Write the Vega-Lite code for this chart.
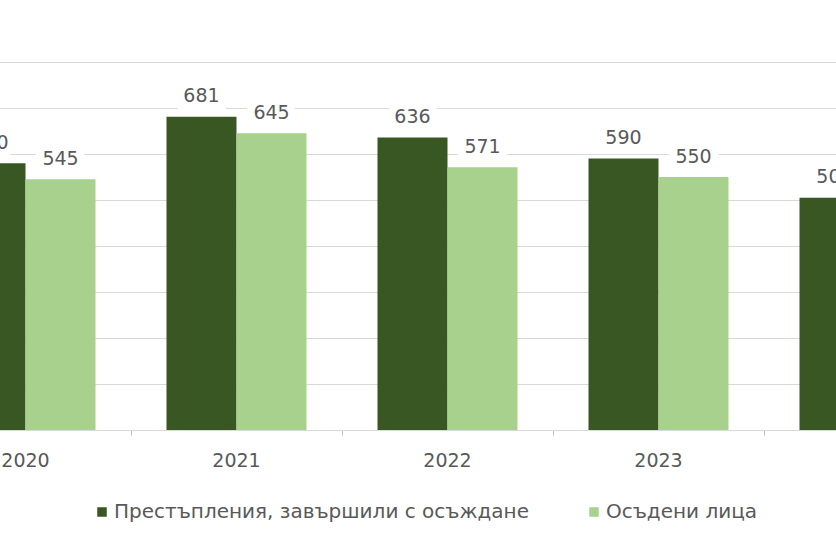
{
  "$schema": "https://vega.github.io/schema/vega-lite/v6.json",
  "width": 836,
  "height": 368,
  "autosize": {"type": "none"},
  "padding": {"left": 0, "top": 62, "right": 0, "bottom": 116},
  "background": "white",
  "config": {"view": {"stroke": null}},
  "data": {
    "values": [
      {"year": "2020", "series": "Престъпления, завършили с осъждане", "value": 580},
      {"year": "2020", "series": "Осъдени лица", "value": 545},
      {"year": "2021", "series": "Престъпления, завършили с осъждане", "value": 681},
      {"year": "2021", "series": "Осъдени лица", "value": 645},
      {"year": "2022", "series": "Престъпления, завършили с осъждане", "value": 636},
      {"year": "2022", "series": "Осъдени лица", "value": 571},
      {"year": "2023", "series": "Престъпления, завършили с осъждане", "value": 590},
      {"year": "2023", "series": "Осъдени лица", "value": 550},
      {"year": "2024", "series": "Престъпления, завършили с осъждане", "value": 505},
      {"year": "2024", "series": "Осъдени лица", "value": 480}
    ]
  },
  "resolve": {"axis": {"x": "independent"}},
  "encoding": {
    "xOffset": {
      "field": "series",
      "type": "nominal",
      "sort": ["Престъпления, завършили с осъждане", "Осъдени лица"],
      "scale": {"paddingInner": 0, "paddingOuter": 0.507}
    },
    "y": {
      "field": "value",
      "type": "quantitative",
      "scale": {"domain": [0, 800], "nice": false},
      "axis": {
        "values": [0, 100, 200, 300, 400, 500, 600, 700, 800],
        "grid": true,
        "gridColor": "#d9d9d9",
        "gridWidth": 1,
        "labels": false,
        "ticks": false,
        "domain": false,
        "title": null
      }
    }
  },
  "layer": [
    {
      "mark": {
        "type": "text",
        "baseline": "alphabetic",
        "dy": -14.5,
        "font": "DejaVu Sans",
        "fontSize": 19,
        "fill": "white",
        "stroke": "white",
        "strokeWidth": 16,
        "strokeJoin": "miter"
      },
      "encoding": {
        "x": {
          "field": "year",
          "type": "ordinal",
          "scale": {"range": [-80, 975], "paddingInner": 0, "paddingOuter": 0},
          "axis": {
            "orient": "bottom",
            "bandPosition": 0,
            "labels": false,
            "ticks": true,
            "tickSize": 5,
            "tickColor": "#bfbfbf",
            "domain": false,
            "grid": false,
            "title": null
          }
        },
        "text": {"field": "value", "type": "quantitative"}
      }
    },
    {
      "mark": {"type": "bar", "clip": false},
      "encoding": {
        "x": {
          "field": "year",
          "type": "ordinal",
          "axis": {
            "orient": "bottom",
            "title": null,
            "labelAngle": 0,
            "labelFont": "DejaVu Sans",
            "labelFontSize": 19,
            "labelColor": "#595959",
            "labelPadding": 21,
            "ticks": false,
            "domain": true,
            "domainColor": "#d9d9d9",
            "grid": false
          }
        },
        "color": {
          "field": "series",
          "type": "nominal",
          "sort": ["Престъпления, завършили с осъждане", "Осъдени лица"],
          "scale": {"range": ["#385723", "#a9d18e"]},
          "legend": {
            "orient": "none",
            "legendX": 92,
            "legendY": 440,
            "direction": "horizontal",
            "title": null,
            "symbolType": "square",
            "symbolSize": 90,
            "symbolStrokeWidth": 0,
            "labelFont": "DejaVu Sans",
            "labelFontSize": 20,
            "labelColor": "#595959",
            "labelLimit": 600,
            "columnPadding": 55,
            "labelOffset": 2
          }
        }
      }
    },
    {
      "mark": {
        "type": "text",
        "baseline": "alphabetic",
        "dy": -14.5,
        "font": "DejaVu Sans",
        "fontSize": 19,
        "color": "#595959"
      },
      "encoding": {
        "x": {"field": "year", "type": "ordinal", "axis": null},
        "text": {"field": "value", "type": "quantitative"}
      }
    }
  ]
}
